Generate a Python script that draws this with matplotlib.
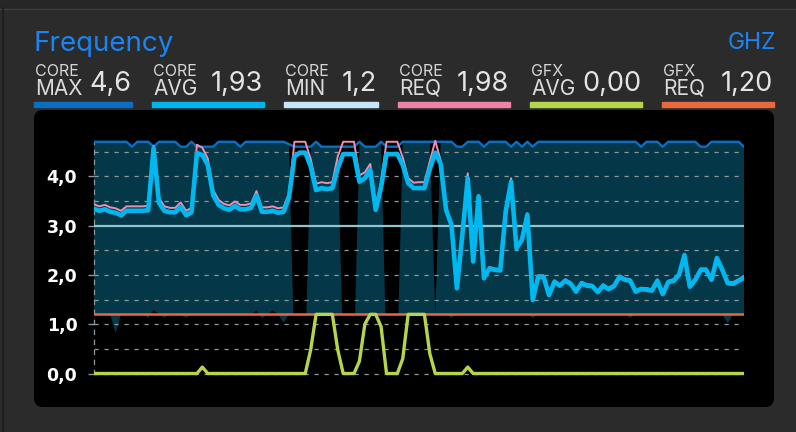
import numpy as np
import matplotlib.pyplot as plt
from matplotlib.patches import FancyBboxPatch, Rectangle

W, H = 796, 432

# samples (one per tick of the monitor, 121 points)
core_avg = [3.34, 3.30, 3.33, 3.28, 3.26, 3.21, 3.30, 3.30, 3.30, 3.30, 3.31,
            4.57, 3.46, 3.30, 3.27, 3.27, 3.38, 3.21, 3.27, 4.47, 4.43,
            4.23, 3.62, 3.42, 3.35, 3.32, 3.40, 3.33, 3.33, 3.36, 3.61,
            3.28, 3.28, 3.30, 3.26, 3.28, 3.57, 4.40, 4.48, 4.48, 4.20,
            3.72, 3.76, 3.74, 3.76, 4.16, 4.45, 4.45, 4.45, 3.89, 3.96,
            4.13, 3.32, 3.78, 4.45, 4.45, 4.45, 4.23, 3.86, 3.76, 3.76,
            3.76, 4.15, 4.48, 4.25, 3.32, 3.01, 1.73, 2.81, 3.96, 2.27,
            3.59, 1.93, 2.13, 2.10, 2.09, 3.28, 3.89, 2.54, 2.71, 3.22,
            1.49, 1.96, 1.96, 1.59, 1.86, 1.78, 1.88, 1.82, 1.66, 1.83,
            1.78, 1.77, 1.65, 1.78, 1.71, 1.77, 1.96, 1.90, 1.88, 1.66,
            1.71, 1.70, 1.68, 1.88, 1.61, 1.85, 1.88, 2.00, 2.40, 1.76,
            1.90, 2.10, 2.10, 1.90, 2.34, 2.10, 1.83, 1.82, 1.88, 1.94]

core_req = [3.43, 3.39, 3.42, 3.37, 3.35, 3.30, 3.39, 3.39, 3.39, 3.39, 3.40,
            4.62, 3.56, 3.39, 3.36, 3.36, 3.47, 3.30, 3.36, 4.64, 4.58,
            4.36, 3.72, 3.52, 3.44, 3.41, 3.49, 3.42, 3.42, 3.45, 3.70,
            3.37, 3.37, 3.39, 3.35, 3.37, 3.66, 4.70, 4.70, 4.70, 4.35,
            3.85, 3.88, 3.86, 3.88, 4.40, 4.70, 4.70, 4.70, 4.02, 4.08,
            4.25, 3.40, 3.88, 4.70, 4.70, 4.70, 4.38, 3.96, 3.87, 3.88,
            3.88, 4.30, 4.72, 4.32, 3.36, 3.04, 1.76, 2.84, 4.06, 2.30,
            3.62, 1.96, 2.16, 2.13, 2.12, 3.31, 3.96, 2.57, 2.74, 3.25,
            1.52, 1.99, 1.99, 1.62, 1.89, 1.81, 1.91, 1.85, 1.69, 1.86,
            1.81, 1.80, 1.68, 1.81, 1.74, 1.80, 1.99, 1.93, 1.91, 1.69,
            1.74, 1.73, 1.71, 1.91, 1.64, 1.88, 1.91, 2.03, 2.43, 1.79,
            1.93, 2.13, 2.13, 1.93, 2.37, 2.13, 1.86, 1.85, 1.91, 1.98]

core_max = [4.7, 4.7, 4.7, 4.7, 4.7, 4.7, 4.7, 4.6, 4.7, 4.7, 4.7,
            4.6, 4.7, 4.7, 4.7, 4.7, 4.6, 4.6, 4.7, 4.6, 4.6,
            4.6, 4.6, 4.7, 4.7, 4.7, 4.7, 4.6, 4.7, 4.7, 4.7,
            4.7, 4.7, 4.7, 4.7, 4.7, 4.65, 4.6, 4.6, 4.6, 4.6,
            4.7, 4.6, 4.6, 4.6, 4.6, 4.6, 4.6, 4.6, 4.7, 4.6,
            4.6, 4.6, 4.7, 4.6, 4.6, 4.6, 4.7, 4.7, 4.7, 4.7,
            4.7, 4.7, 4.7, 4.7, 4.7, 4.7, 4.6, 4.6, 4.7, 4.7,
            4.7, 4.6, 4.7, 4.7, 4.7, 4.7, 4.6, 4.7, 4.6, 4.7,
            4.6, 4.7, 4.7, 4.7, 4.7, 4.7, 4.7, 4.7, 4.7, 4.7,
            4.7, 4.7, 4.7, 4.7, 4.7, 4.7, 4.7, 4.7, 4.7, 4.7,
            4.6, 4.7, 4.7, 4.7, 4.6, 4.7, 4.7, 4.7, 4.7, 4.7,
            4.7, 4.6, 4.6, 4.7, 4.7, 4.7, 4.7, 4.7, 4.7, 4.6]

# upper edge of the shaded band (drops out while all cores sit at max)
band_top = [4.7, 4.7, 4.7, 4.7, 4.7, 4.7, 4.7, 4.6, 4.7, 4.7, 4.7,
            4.6, 4.7, 4.7, 4.7, 4.7, 4.6, 4.6, 4.7, 4.6, 4.6,
            4.6, 4.6, 4.7, 4.7, 4.7, 4.7, 4.6, 4.7, 4.7, 4.7,
            4.7, 4.7, 4.7, 4.7, 4.7, 4.65, 0.3, 0.3, 0.3, 4.6,
            4.7, 4.6, 4.6, 4.6, 4.6, 0.3, 0.3, 0.3, 4.7, 4.6,
            4.6, 4.6, 4.7, 0.3, 0.3, 0.3, 4.7, 4.7, 4.7, 4.7,
            4.7, 4.7, 1.2, 4.7, 4.7, 4.7, 4.6, 4.6, 4.7, 4.7,
            4.7, 4.6, 4.7, 4.7, 4.7, 4.7, 4.6, 4.7, 4.6, 4.7,
            4.6, 4.7, 4.7, 4.7, 4.7, 4.7, 4.7, 4.7, 4.7, 4.7,
            4.7, 4.7, 4.7, 4.7, 4.7, 4.7, 4.7, 4.7, 4.7, 4.7,
            4.6, 4.7, 4.7, 4.7, 4.6, 4.7, 4.7, 4.7, 4.7, 4.7,
            4.7, 4.6, 4.6, 4.7, 4.7, 4.7, 4.7, 4.7, 4.7, 4.6]

core_min = [1.2, 1.2, 1.2, 1.2, 0.82, 1.2, 1.2, 1.2, 1.2, 1.2, 1.13,
            1.29, 1.2, 1.13, 1.2, 1.2, 1.2, 1.13, 1.2, 1.2, 1.2,
            1.2, 1.2, 1.2, 1.2, 1.2, 1.2, 1.2, 1.2, 1.2, 1.28,
            1.12, 1.2, 1.28, 1.2, 1.03, 1.2, 1.2, 1.2, 1.2, 1.2,
            1.2, 1.2, 1.2, 1.2, 1.2, 1.2, 1.2, 1.2, 1.2, 1.2,
            1.2, 1.2, 1.2, 1.2, 1.2, 1.2, 1.2, 1.2, 1.2, 1.2,
            1.2, 1.2, 1.2, 1.2, 1.2, 1.13, 1.2, 1.2, 1.2, 1.2,
            1.2, 1.2, 1.2, 1.2, 1.2, 1.2, 1.2, 1.2, 1.2, 1.2,
            1.13, 1.2, 1.2, 1.2, 1.2, 1.2, 1.2, 1.2, 1.2, 1.2,
            1.2, 1.2, 1.2, 1.2, 1.2, 1.2, 1.2, 1.2, 1.13, 1.2,
            1.2, 1.2, 1.2, 1.2, 1.2, 1.2, 1.2, 1.2, 1.2, 1.2,
            1.2, 1.2, 1.2, 1.2, 1.2, 1.2, 1.02, 1.2, 1.2, 1.2]

gfx_avg = [0, 0, 0, 0, 0, 0, 0, 0, 0, 0, 0,
           0, 0, 0, 0, 0, 0, 0, 0, 0, 0.13,
           0, 0, 0, 0, 0, 0, 0, 0, 0, 0,
           0, 0, 0, 0, 0, 0, 0, 0, 0, 0.48,
           1.2, 1.2, 1.2, 1.2, 0.48, 0, 0, 0, 0.25, 1.0,
           1.2, 1.2, 0.95, 0, 0, 0, 0.3, 1.2, 1.2, 1.2,
           1.2, 0.4, 0, 0, 0, 0, 0, 0, 0.13, 0,
           0, 0, 0, 0, 0, 0, 0, 0, 0, 0,
           0, 0, 0, 0, 0, 0, 0, 0, 0, 0,
           0, 0, 0, 0, 0, 0, 0, 0, 0, 0,
           0, 0, 0, 0, 0, 0, 0, 0, 0, 0,
           0, 0, 0, 0, 0, 0, 0, 0, 0, 0]

gfx_req = 1.20
ref_level = 3.0

y_ticks = [0, 1, 2, 3, 4]
y_tick_labels = ['0,0', '1,0', '2,0', '3,0', '4,0']

legend_top = ['CORE', 'CORE', 'CORE', 'CORE', 'GFX', 'GFX']
legend_bottom = ['MAX', 'AVG', 'MIN', 'REQ', 'AVG', 'REQ']
legend_values = ['4,6', '1,93', '1,2', '1,98', '0,00', '1,20']
legend_colors = ['#0a6fc4', '#00b5ee', '#c4e6f6', '#ee83aa', '#b6d64a', '#e9693f']
legend_x = [(34, 132), (152, 264), (284, 378), (398, 510), (530, 642), (662, 774)]

t = np.arange(len(core_avg))
core_min = np.array(core_min)
band_top = np.array(band_top)

plt.rcParams['font.family'] = ['Inter', 'DejaVu Sans']

fig = plt.figure(figsize=(W / 100, H / 100), dpi=100, facecolor='#2b2b2b')


def fx(x):
    return x / W


def fy(y):
    return 1 - y / H


# window chrome
fig.patches.append(Rectangle((0, fy(8)), 1, 8 / H, transform=fig.transFigure,
                             color='#262626', zorder=-2))
fig.lines.append(plt.Line2D([0, 1], [fy(8.5), fy(8.5)], transform=fig.transFigure,
                            color='#3d3d3d', lw=1, zorder=-1))
fig.lines.append(plt.Line2D([fx(3), fx(3)], [0, fy(8)], transform=fig.transFigure,
                            color='#1f1f1f', lw=1.5, zorder=-1))
fig.patches.append(FancyBboxPatch((34 / 100, (H - 407) / 100), 740 / 100, 297 / 100,
                                  boxstyle='round,pad=0,rounding_size=0.09',
                                  transform=fig.dpi_scale_trans,
                                  facecolor='black', edgecolor='none', zorder=-1))

# header
fig.text(fx(33), fy(51), 'Frequency', color='#1a84f5', fontsize=20, va='baseline')
fig.text(fx(776), fy(49), 'GHZ', color='#1a84f5', fontsize=16.5, ha='right', va='baseline')

for top, bot, val, col, (x0, x1) in zip(legend_top, legend_bottom, legend_values,
                                         legend_colors, legend_x):
    fig.text(fx(x0 + 1), fy(76), top, color='#d6d6d6', fontsize=11.5, va='baseline')
    fig.text(fx(x0 + 1), fy(95), bot, color='#dcdcdc', fontsize=15, va='baseline')
    fig.text(fx(x1 - 1), fy(91), val, color='#e4e4e4', fontsize=19.5,
             ha='right', va='baseline')
    fig.patches.append(Rectangle((fx(x0), fy(106.5)), fx(x1) - fx(x0), 5 / H,
                                 transform=fig.transFigure, color=col))

# chart
ax = fig.add_axes([fx(94), (H - 388.3) / H, 650 / W, 249 / H])
ax.set_zorder(5)
ax.set_facecolor('none')
ax.set_xlim(0, len(t) - 1)
ax.set_ylim(-0.3, 4.75)

ax.fill_between(t, core_min, band_top, where=band_top >= core_min, interpolate=True,
                color='#043848', lw=0, zorder=1)

for v in [0, 0.5, 1, 1.5, 2, 2.5, 3.5, 4, 4.5]:
    ax.axhline(v, color='#8e979b', lw=0.9, ls=(0, (3.4, 4.6)), zorder=2)
ax.axhline(ref_level, color='#93c4ce', lw=1.6, zorder=3)
ax.axhline(gfx_req, color=legend_colors[5], lw=1.8, zorder=4)

ax.plot(t, core_max, color=legend_colors[0], lw=1.7, zorder=5)
ax.plot(t, core_req, color='#ee8fb2', lw=1.4, zorder=6)
ax.plot(t, core_avg, color='#00b8f0', lw=3.3, zorder=7)
ax.plot(t, gfx_avg, color=legend_colors[4], lw=2.4, zorder=8)

for s in ['top', 'right', 'bottom']:
    ax.spines[s].set_visible(False)
ax.spines['left'].set_color('#8e979b')
ax.spines['left'].set_linestyle((0, (3.4, 4.6)))
ax.spines['left'].set_linewidth(0.9)
ax.spines['left'].set_bounds(0, 4.7)

ax.set_xticks([])
ax.set_yticks(y_ticks)
ax.set_yticklabels(y_tick_labels, family='DejaVu Sans', fontweight='bold')
ax.tick_params(axis='y', length=4, width=1, color='#8e979b', pad=8,
               labelcolor='white', labelsize=12.5)

fig.savefig('out.png', dpi=100, facecolor=fig.get_facecolor())
